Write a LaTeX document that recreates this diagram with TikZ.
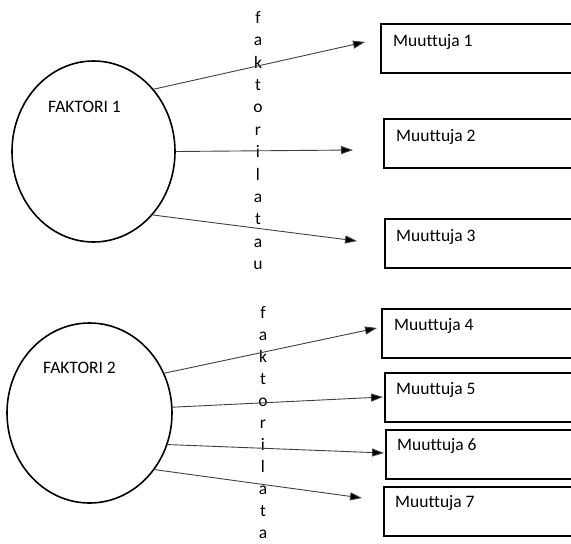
\documentclass[tikz,border=0pt]{standalone}
\usepackage{fontspec}
\setmainfont[Ligatures={NoCommon,NoRare}]{Carlito}
\usetikzlibrary{shapes.geometric,arrows.meta}
\tikzset{
  factor/.style={ellipse, draw=black, line width=1.6pt, inner sep=0pt},
  varbox/.style={rectangle, draw=black, line width=1.6pt, anchor=north west,
                 minimum width=240pt, minimum height=49pt, inner sep=0pt},
  lbl/.style={font=\fontsize{17.5}{21}\selectfont, inner sep=0pt, anchor=west},
  vert/.style={font=\fontsize{17.5}{22.4}\selectfont, align=center, inner sep=0pt, anchor=north},
  vertb/.style={font=\fontsize{17.5}{22}\selectfont, align=center, inner sep=0pt, anchor=north},
  load/.style={draw=black!75, line width=0.9pt, -{Triangle[length=12pt,width=8pt,fill=black]}}
}
\begin{document}
\begin{tikzpicture}[x=1pt,y=-1pt]
\useasboundingbox (0,0) rectangle (571,544);
\clip (0,0) rectangle (571,544);

% factor 1 group
\node[factor, minimum width=163pt, minimum height=181pt] (f1) at (93.5,151.5) {};
\node[lbl] (f1t) at (48,107) {FAKTORI 1};
\node[vert] (v1) at (258,11) {f\\a\\k\\t\\o\\r\\i\\l\\a\\t\\a\\u};

\node[varbox] (m1) at (380,23) {};
\node[varbox] (m2) at (383,118) {};
\node[varbox] (m3) at (384,218) {};
\node[lbl] (m1t) at (393,42) {Muuttuja 1};
\node[lbl] (m2t) at (396,137) {Muuttuja 2};
\node[lbl] (m3t) at (396,237) {Muuttuja 3};

\coordinate (t1) at (365,42);
\coordinate (t2) at (353,150);
\coordinate (t3) at (357,241);
\draw[load] (f1.46.4) -- (t1);
\draw[load] (f1.0) -- (t2);
\draw[load] (f1.-47.3) -- (t3);

% factor 2 group
\node[factor, minimum width=165pt, minimum height=180pt] (f2) at (89.5,413) {};
\node[lbl] (f2t) at (43,368) {FAKTORI 2};
\node[vertb] (v2) at (263,306) {f\\a\\k\\t\\o\\r\\i\\l\\a\\t\\a};

\node[varbox] (m4) at (381,308) {};
\node[varbox] (m5) at (384,372) {};
\node[varbox] (m6) at (385,429) {};
\node[varbox] (m7) at (383,486) {};
\node[lbl] (m4t) at (394,326) {Muuttuja 4};
\node[lbl] (m5t) at (396,390) {Muuttuja 5};
\node[lbl] (m6t) at (397,446) {Muuttuja 6};
\node[lbl] (m7t) at (395,503) {Muuttuja 7};

\coordinate (t4) at (377,328);
\coordinate (t5) at (383,397);
\coordinate (t6) at (384,453);
\coordinate (t7) at (362,498);
\draw[load] (f2.28.2) -- (t4);
\draw[load] (f2.4.9) -- (t5);
\draw[load] (f2.-22.2) -- (t6);
\draw[load] (f2.-41.6) -- (t7);
\end{tikzpicture}
\end{document}
